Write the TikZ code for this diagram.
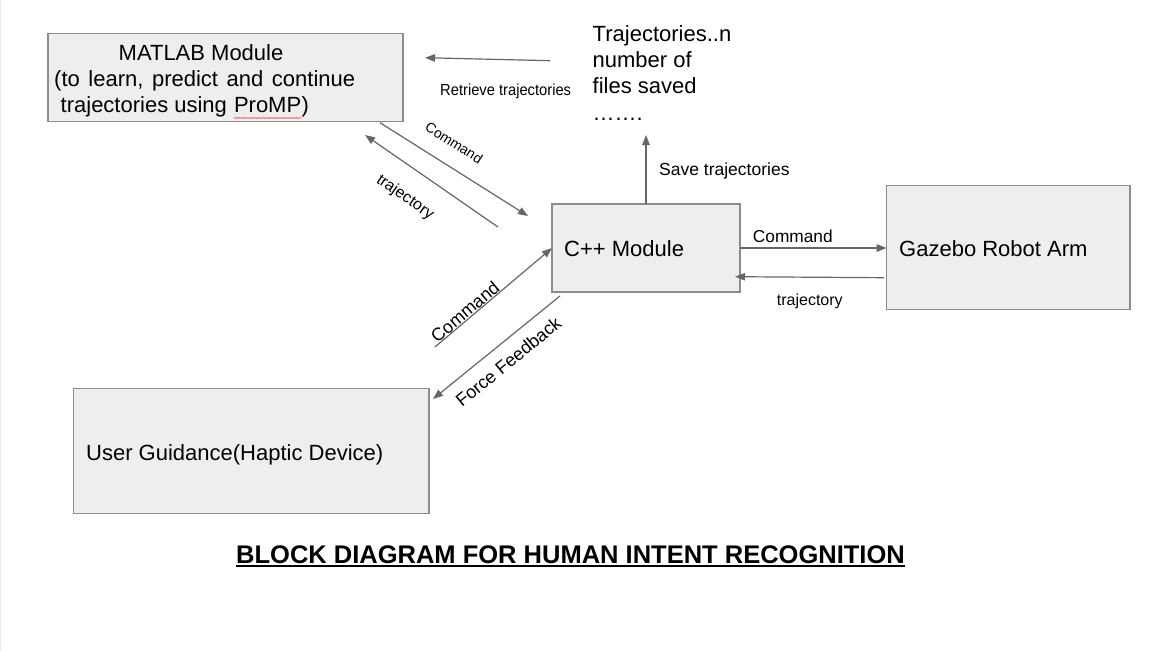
\documentclass[tikz,border=0pt]{standalone}
\usepackage{fontspec}
\usepackage{graphicx}
\setmainfont{Liberation Sans}
\usetikzlibrary{arrows.meta,decorations.pathmorphing}
\definecolor{boxfill}{HTML}{EEEEEE}
\definecolor{boxline}{HTML}{8C8C8C}
\definecolor{arrowcol}{HTML}{666666}
\definecolor{spellred}{HTML}{E06060}
\begin{document}
\begin{tikzpicture}[x=1pt,y=-1pt,
  blk/.style={draw=boxline, fill=boxfill, line width=1.3pt, inner sep=0pt, outer sep=0pt},
  txt/.style={anchor=base west, inner sep=0pt, text=black},
  big/.style={txt, font=\fontsize{22}{26}\selectfont},
  lbl/.style={inner sep=0pt, text=black, font=\fontsize{#1}{#1}\selectfont},
  lblw/.style={txt, font=\fontsize{#1}{#1}\selectfont},
  arr/.style={draw=arrowcol, line width=1.2pt, -{Triangle[length=10pt,width=7.5pt]}}
]
\useasboundingbox (0,0) rectangle (1157,651);
\fill[white] (0,0) rectangle (1157,651);
\draw[color=black!8, line width=1pt] (0.5,0) -- (0.5,651);

% boxes
\node[blk, minimum width=355pt, minimum height=88pt] (matlab) at (225.5,77.7) {};
\node[blk, minimum width=188pt, minimum height=88pt] (cpp) at (646,248) {};
\node[blk, minimum width=243.5pt, minimum height=123.6pt] (gazebo) at (1008.3,247.5) {};
\node[blk, minimum width=355.7pt, minimum height=125pt] (user) at (251.2,450.8) {};

% box texts
\node[big] (mt1) at (118.5,60) {MATLAB Module};
\node[big] (mt2) at (54,86) {\spaceskip=8.6pt (to learn, predict and continue};
\node[big] (mt3) at (60.5,112.5) {trajectories using};
\node[big] (mt4) at ([xshift=6.6pt]mt3.base east) {ProMP};
\node[big] (mt5) at (mt4.base east) {)};
\draw[spellred, line width=0.6pt, decorate, decoration={snake, amplitude=0.7pt, segment length=2.6pt}]
  ([yshift=-5.5pt]mt4.base west) -- ([yshift=-5.5pt]mt4.base east);

\node[big] (cpptxt) at (564,256) {C++ Module};
\node[big] (gztxt) at (899,256) {Gazebo Robot Arm};
\node[big] (ustxt) at (86,460) {User Guidance(Haptic Device)};

\node[big] (tr1) at (592.5,41) {Trajectories..n};
\node[big] (tr2) at (592.5,67) {number of};
\node[big] (tr3) at (592.5,93) {files saved};
\node[big] (tr4) at (592.5,120) {…….};

% connector end points
\coordinate (rtS) at (550,60.7);
\coordinate (rtE) at (425,57.7);
\coordinate (c1S) at (380,122.7);
\coordinate (c1E) at (528,216);
\coordinate (t1S) at (498,227);
\coordinate (t1E) at (365,135);
\coordinate (svE) at (646,135);
\coordinate (t2S) at (884,277.7);
\coordinate (t2E) at (735,276.7);
\coordinate (c3S) at (435,347);
\coordinate (ffS) at (560,296);
\coordinate (ffE) at (433,399);

% connectors
\draw[arr] (rtS) -- (rtE);
\draw[arr] (c1S) -- (c1E);
\draw[arr] (t1S) -- (t1E);
\draw[arr] (cpp.north) -- (svE);
\draw[arr] (cpp.east) -- (cpp.east -| gazebo.west);
\draw[arr] (t2S) -- (t2E);
\draw[arr] (c3S) -- (cpp.west);
\draw[arr] (ffS) -- (ffE);

% labels
\node[lblw=16] (lret) at (440,95) {\scalebox{0.92}[1]{Retrieve trajectories}};
\node[lbl=14, rotate=-32.4] (lc1) at (454,142.7) {Command};
\node[lbl=16, rotate=-34.7] (lt1) at (405,197.5) {trajectory};
\node[lblw=17.5] (lsv) at (659,175.7) {Save trajectories};
\node[lblw=17.3] (lc2) at (752.7,242.7) {Command};
\node[lblw=16] (lt2) at (776.7,305) {trajectory};
\node[lbl=18, rotate=40.2] (lc3) at (465,311.7) {Command};
\node[lbl=18, rotate=39.3] (lff) at (508.3,361.7) {Force Feedback};

% title
\node[txt, font=\fontsize{25.5}{30}\selectfont\bfseries] (title) at (236,563.3) {BLOCK DIAGRAM FOR HUMAN INTENT RECOGNITION};
\draw[black, line width=2pt] ([yshift=-2.8pt]title.base west) -- ([yshift=-2.8pt]title.base east);
\end{tikzpicture}
\end{document}
